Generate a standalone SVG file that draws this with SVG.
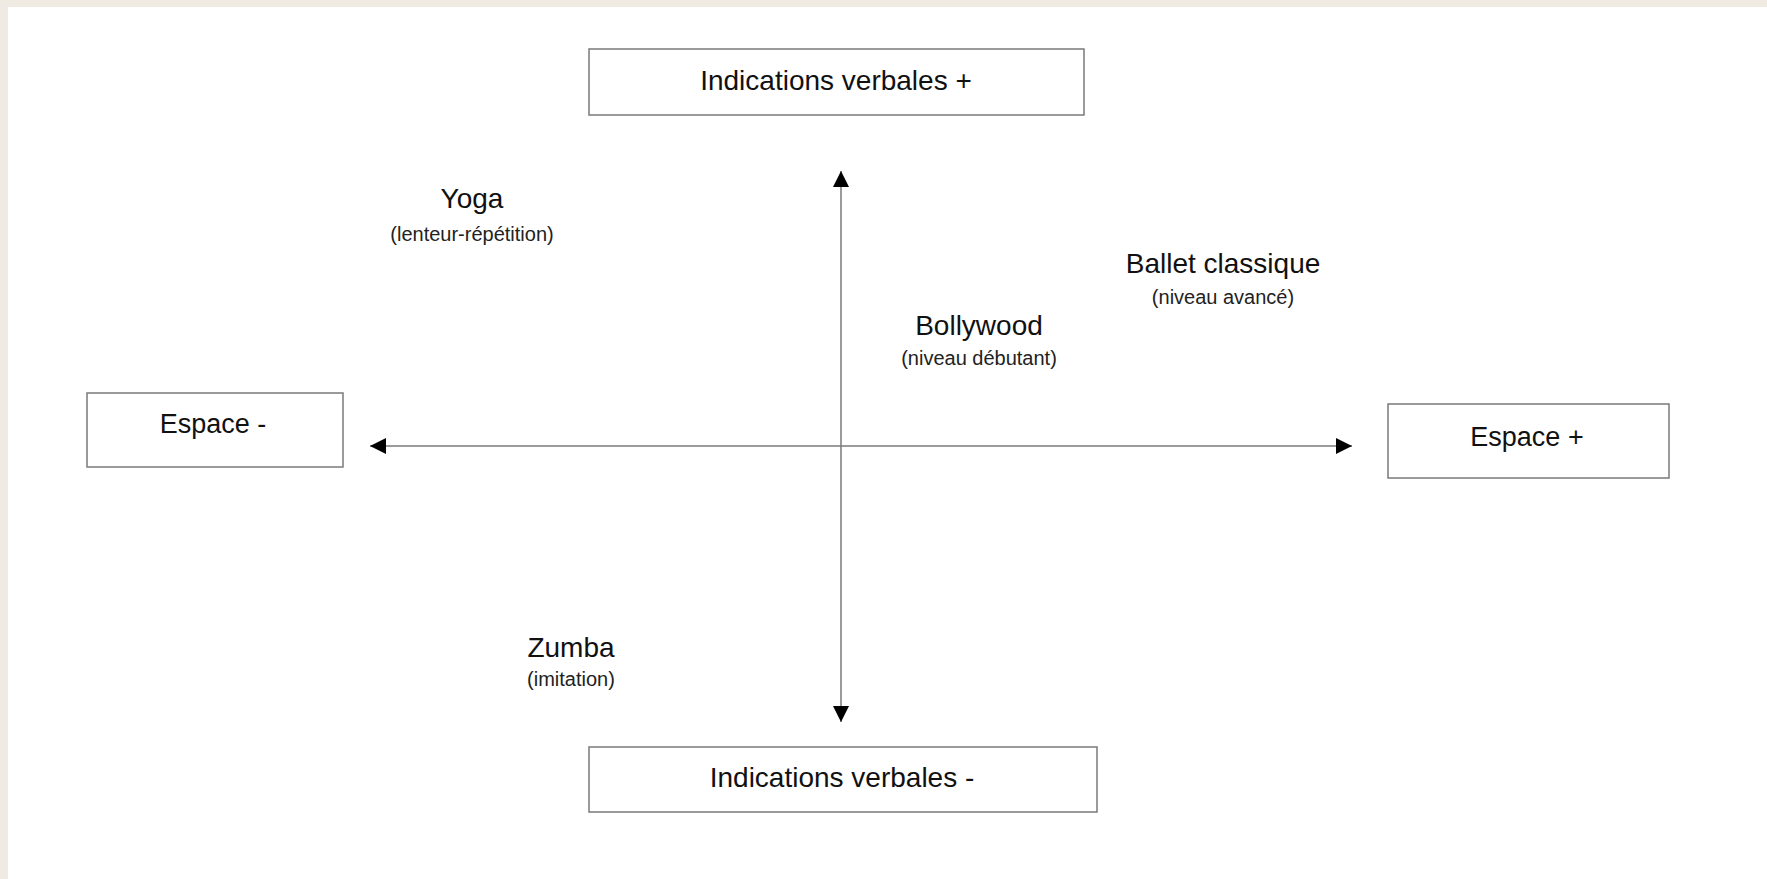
<svg xmlns="http://www.w3.org/2000/svg" width="1767" height="879" viewBox="0 0 1767 879">
<defs>
<style>
.box{fill:#ffffff;stroke:#7a7a7a;stroke-width:1.5}
.axis{stroke:#7a7a7a;stroke-width:1.5;fill:none}
.big{font-family:"Liberation Sans",Arial,sans-serif;font-size:28px;fill:#111111;text-anchor:middle}
.esp{font-family:"Liberation Sans",Arial,sans-serif;font-size:27px;fill:#111111;text-anchor:middle}
.lbl{font-family:"Liberation Sans",Arial,sans-serif;font-size:28px;fill:#111111;text-anchor:middle}
.sub{font-family:"Liberation Sans",Arial,sans-serif;font-size:20px;fill:#222222;text-anchor:middle}
</style>
<marker id="ah" viewBox="0 0 10 10" refX="10" refY="5" markerWidth="16" markerHeight="16" markerUnits="userSpaceOnUse" orient="auto">
<path d="M0,0 L10,5 L0,10 Z" fill="#000000"/>
</marker>
</defs>
<rect x="0" y="0" width="1767" height="879" fill="#efebe2"/>
<rect x="8" y="7" width="1759" height="872" fill="#ffffff"/>
<g id="connectors">
<line class="axis" x1="841" y1="446" x2="841" y2="171" marker-end="url(#ah)"/>
<line class="axis" x1="841" y1="446" x2="841" y2="722" marker-end="url(#ah)"/>
<line class="axis" x1="841" y1="446" x2="370" y2="446" marker-end="url(#ah)"/>
<line class="axis" x1="841" y1="446" x2="1352" y2="446" marker-end="url(#ah)"/>
</g>
<g id="node-verbal-plus">
<rect class="box" x="589" y="49" width="495" height="66"/>
<text class="big" x="836" y="90">Indications verbales +</text>
</g>
<g id="node-verbal-minus">
<rect class="box" x="589" y="747" width="508" height="65"/>
<text class="big" x="842" y="787">Indications verbales -</text>
</g>
<g id="node-espace-minus">
<rect class="box" x="87" y="393" width="256" height="74"/>
<text class="esp" x="213" y="433">Espace -</text>
</g>
<g id="node-espace-plus">
<rect class="box" x="1388" y="404" width="281" height="74"/>
<text class="esp" x="1527" y="446">Espace +</text>
</g>
<g id="node-yoga">
<text class="lbl" x="472" y="208">Yoga</text>
<text class="sub" x="472" y="241">(lenteur-répétition)</text>
</g>
<g id="node-ballet">
<text class="lbl" x="1223" y="273">Ballet classique</text>
<text class="sub" x="1223" y="304">(niveau avancé)</text>
</g>
<g id="node-bollywood">
<text class="lbl" x="979" y="335">Bollywood</text>
<text class="sub" x="979" y="365">(niveau débutant)</text>
</g>
<g id="node-zumba">
<text class="lbl" x="571" y="657">Zumba</text>
<text class="sub" x="571" y="686">(imitation)</text>
</g>
</svg>
